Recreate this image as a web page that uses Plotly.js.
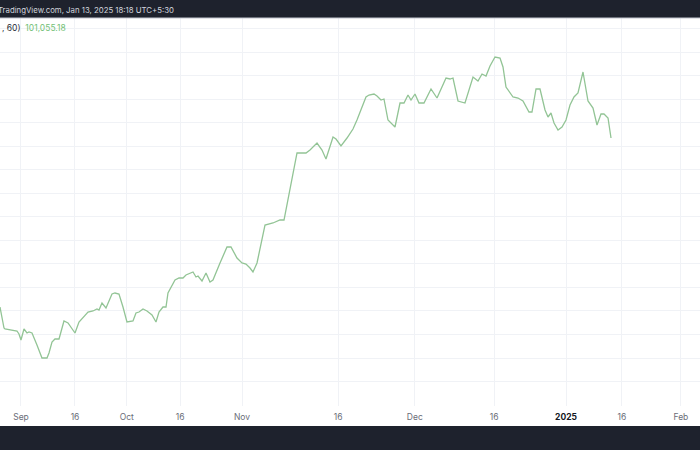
<!DOCTYPE html>
<html>
<head>
<meta charset="utf-8">
<script src="https://cdn.plot.ly/plotly-3.0.1.min.js"></script>
<style>
  html, body { margin: 0; padding: 0; background: #ffffff; }
  #chart { width: 700px; height: 450px; }
</style>
</head>
<body>
<div id="chart"></div>
<script>
// Bar index (time-axis position) of each vertex of the line
const barIndex = [-5.83,-4.72,-4.44,-3.06,-1.11,-0.56,0,0.83,1.67,2.22,
  3.06,4.44,5.83,7.22,7.78,8.61,9.44,10.56,11.94,13.06,
  13.89,15,16.11,17.22,18.61,20,21.11,21.67,22.5,23.61,
  25.28,26.11,27.22,28.33,29.44,31.11,31.94,32.78,33.89,35,
  36.39,37.5,38.33,39.44,40.28,40.83,41.67,42.78,43.89,45,
  45.83,46.67,47.78,48.61,49.17,50.28,51.39,52.5,53.33,55.28,
  57.22,58.33,60,61.39,62.5,63.61,64.44,65.56,67.78,70,
  71.94,73.06,76.67,79.17,80.28,82.22,83.61,84.72,86.67,87.5,
  88.89,90.56,92.22,93.33,94.72,95.83,96.67,98.06,98.89,100,
  100.83,101.94,103.89,105.28,106.39,107.5,108.33,109.44,110.56,111.94,
  113.89,115.56,118.06,119.17,120,121.39,123.33,125.56,126.94,128.06,
  129.17,130.28,131.67,133.06,133.89,134.72,136.67,138.06,139.44,140.28,
  141.11,141.94,143.06,144.17,145.56,146.39,147.22,148.06,149.17,150.28,
  151.39,152.5,153.61,154.72,156.11,157.5,158.89,160,161.11,161.94,
  163.06,163.89];

// Price
const price = [62670,59100,58930,58760,58590,58080,57060,58930,58250,58420,
  58250,56210,54000,54000,54850,56720,57230,57230,60290,59950,
  59270,58250,60120,60800,61820,61990,62330,62160,63350,62500,
  64880,65050,64880,62670,60120,60290,61650,61820,62330,61990,
  61310,60120,61820,62670,62670,65050,66070,67260,67600,67600,
  68110,68280,68620,67770,67940,67090,68450,66920,67260,70150,
  72870,72870,71000,70150,69980,69300,68620,70150,76610,76950,
  77460,77460,88850,88850,89360,90550,89360,87830,91570,91230,
  90040,91400,92930,94460,96500,98370,98710,98880,98540,97860,
  98030,94460,93270,97350,97350,98710,97860,98880,97350,97350,
  99730,98200,101600,101430,101600,97690,97350,101770,101090,102280,
  101940,103640,105170,105000,103470,100070,98370,98200,97690,96670,
  95820,95820,99730,99730,96160,94970,95650,93950,92760,93270,
  94460,97010,98370,99050,102620,97690,96500,93610,95480,95480,
  94800,91400];

// Time-axis labels and their bar positions
const tickPos = [0, 15, 29.4, 44.2, 61.4, 88.1, 109.4, 131.4, 151.4, 166.9, 183.3];
const tickLabels = ['Sep', '16', 'Oct', '16', 'Nov', '16', 'Dec', '16', '2025', '16', 'Feb'];

const headerText = 'TradingView.com, Jan 13, 2025 18:18 UTC+5:30';
const legendName = ', 60)';
const legendValue = '101,055.18';

const FONT = 'Inter, "Noto Sans", "DejaVu Sans", sans-serif';
const GRID = '#f0f2f6';
const DARK = '#1e222d';

const ticktext = tickLabels.map(t => t === '2025'
  ? '<span style="color:#131722"><b>2025</b></span>' : t);

const trace = {
  x: barIndex,
  y: price,
  type: 'scatter',
  mode: 'lines',
  line: { color: '#92c495', width: 1.3 },
  hoverinfo: 'skip'
};

const plotH = 450 - 18 - 44;

const layout = {
  width: 700,
  height: 450,
  margin: { l: 0, r: 0, t: 18, b: 44, pad: 0 },
  paper_bgcolor: '#ffffff',
  plot_bgcolor: '#ffffff',
  showlegend: false,
  xaxis: {
    range: [-5.83, 188.61],
    tickmode: 'array',
    tickvals: tickPos,
    ticktext: ticktext,
    showgrid: true,
    gridcolor: GRID,
    gridwidth: 1,
    zeroline: false,
    showline: false,
    ticks: '',
    ticklabelstandoff: 4,
    tickfont: { family: FONT, size: 8.5, color: '#6a6d78' },
    fixedrange: true
  },
  yaxis: {
    range: [45840, 111800],
    tick0: 54000,
    dtick: 4000,
    showticklabels: false,
    showgrid: true,
    gridcolor: GRID,
    gridwidth: 1,
    zeroline: false,
    showline: false,
    ticks: '',
    fixedrange: true
  },
  shapes: [
    { type: 'rect', xref: 'paper', yref: 'paper', x0: 0, x1: 1,
      y0: 1, y1: 1 + 18 / plotH, fillcolor: DARK, line: { width: 0 }, layer: 'above' },
    { type: 'line', xref: 'paper', yref: 'paper', x0: 0, x1: 1,
      y0: 1, y1: 1, line: { color: '#c3c6d0', width: 1 }, layer: 'above' },
    { type: 'rect', xref: 'paper', yref: 'paper', x0: 0, x1: 1,
      y0: -44 / plotH, y1: -20 / plotH, fillcolor: DARK, line: { width: 0 }, layer: 'above' }
  ],
  annotations: [
    { xref: 'paper', yref: 'paper', x: 176 / 700, y: 1 + 8 / plotH,
      xanchor: 'right', yanchor: 'middle', showarrow: false,
      text: headerText, font: { family: FONT, size: 7.8, color: '#d1d4dc' } },
    { xref: 'paper', yref: 'paper', x: 0, y: 1 - 10 / plotH,
      xanchor: 'left', yanchor: 'middle', showarrow: false,
      text: '<span style="color:#2a2e39">' + legendName + '</span>  <span style="color:#72bf76">' + legendValue + '</span>',
      font: { family: FONT, size: 8.5, color: '#2a2e39' } }
  ]
};

Plotly.newPlot('chart', [trace], layout, { displayModeBar: false, staticPlot: true });
</script>
</body>
</html>
